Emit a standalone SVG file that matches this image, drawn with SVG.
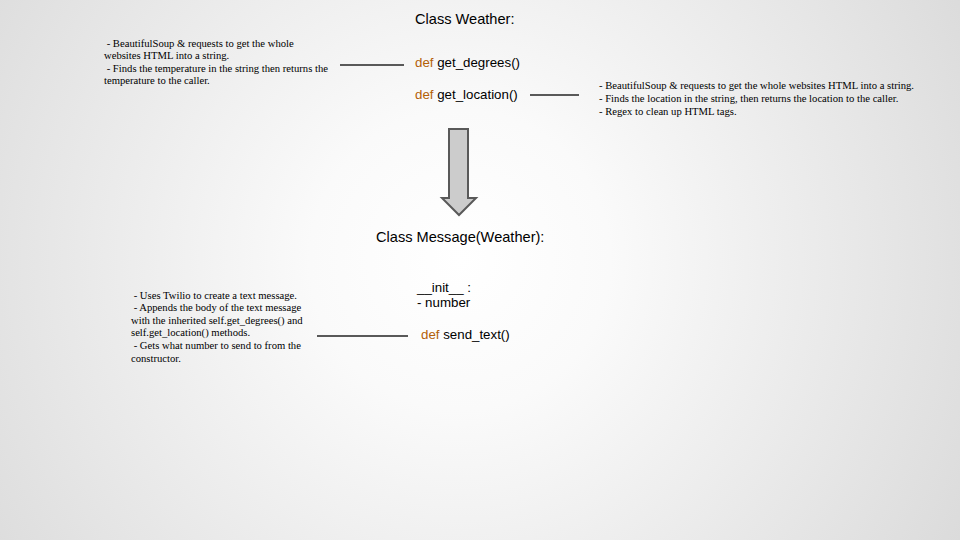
<svg xmlns="http://www.w3.org/2000/svg" width="960" height="540" viewBox="0 0 960 540">
<defs>
<radialGradient id="bg" cx="460" cy="260" r="600" gradientUnits="userSpaceOnUse">
<stop offset="0" stop-color="#ffffff"/>
<stop offset="0.25" stop-color="#fafafa"/>
<stop offset="1" stop-color="#d9d9d9"/>
</radialGradient>
<style>
.h{font-family:"Liberation Sans",Arial,sans-serif;font-size:14.6px;fill:#000}
.c{font-family:"Liberation Sans",Arial,sans-serif;font-size:13.3px;fill:#000}
.k{fill:#b45f06}
.n{font-family:"Liberation Serif","Times New Roman",serif;font-size:10.65px;fill:#000}
.ln{stroke:#595959;stroke-width:2;fill:none}
</style>
</defs>
<rect width="960" height="540" fill="url(#bg)"/>
<g id="weather">
<text class="h" x="415" y="24">Class Weather:</text>
<text class="c" x="415" y="67"><tspan class="k">def</tspan> get_degrees()</text>
<text class="c" x="415" y="99"><tspan class="k">def</tspan> get_location()</text>
</g>
<g id="note-degrees">
<text class="n" xml:space="preserve"><tspan x="104" y="47"> - BeautifulSoup &amp; requests to get the whole</tspan><tspan x="104" y="59">websites HTML into a string.</tspan><tspan x="104" y="72"> - Finds the temperature in the string then returns the</tspan><tspan x="104" y="84">temperature to the caller.</tspan></text>
</g>
<g id="note-location">
<text class="n"><tspan x="599" y="89">- BeautifulSoup &amp; requests to get the whole websites HTML into a string.</tspan><tspan x="599" y="102">- Finds the location in the string, then returns the location to the caller.</tspan><tspan x="599" y="115">- Regex to clean up HTML tags.</tspan></text>
</g>
<g id="message">
<text class="h" x="376" y="242">Class Message(Weather):</text>
<text class="c" x="417" y="292">__init__ :</text>
<text class="c" x="417" y="307">- number</text>
<text class="c" x="421" y="339"><tspan class="k">def</tspan> send_text()</text>
</g>
<g id="note-send">
<text class="n" xml:space="preserve"><tspan x="131" y="299"> - Uses Twilio to create a text message.</tspan><tspan x="131" y="311"> - Appends the body of the text message</tspan><tspan x="131" y="324">with the inherited self.get_degrees() and</tspan><tspan x="131" y="336">self.get_location() methods.</tspan><tspan x="131" y="349"> - Gets what number to send to from the</tspan><tspan x="131" y="362">constructor.</tspan></text>
</g>
<g id="connectors">
<line class="ln" x1="340" y1="65" x2="404" y2="65"/>
<line class="ln" x1="530" y1="95" x2="579" y2="95"/>
<line class="ln" x1="317" y1="336" x2="408" y2="336"/>
<path d="M449,129 H468 V198 H476 L459,215 L442,198 H449 Z" fill="#cccccc" stroke="#595959" stroke-width="2" stroke-linejoin="miter"/>
</g>
</svg>
